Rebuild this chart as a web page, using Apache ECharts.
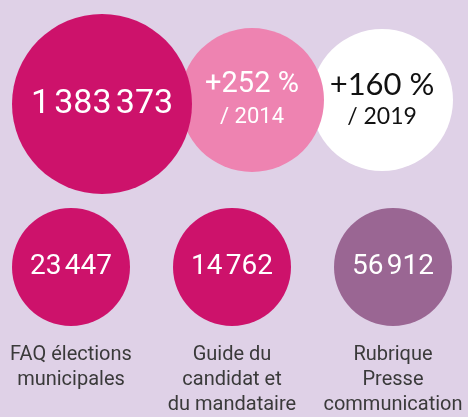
<!DOCTYPE html>
<html>
<head>
<meta charset="utf-8">
<script src="https://cdn.jsdelivr.net/npm/echarts@6/dist/echarts.min.js"></script>
<style>html,body{margin:0;padding:0;background:#dfd1e7}#c{width:468px;height:417px}</style>
</head>
<body>
<div id="c"></div>
<script>
// ---- data ----
const topCategories = ['Visites', 'Évolution / 2014', 'Évolution / 2019'];
const totalVisits = 1383373;
const growthVs2014 = 252;
const growthVs2019 = 160;
const compareYears = [2014, 2019];

const bottomCategories = ['FAQ élections\nmunicipales', 'Guide du\ncandidat et\ndu mandataire', 'Rubrique\nPresse\ncommunication'];
const bottomValues = [23447, 14762, 56912];

// ---- helpers ----
const fmt = n => String(n).replace(/\B(?=(\d{3})+(?!\d))/g, '\u202F');

const bg = '#dfd1e7';
const chart = echarts.init(document.getElementById('c'), null, {renderer: 'canvas'});

// top row items (drawn back to front: white, pink, big)
const topItems = [
  {
    value: [topCategories[2], 'r'],
    symbolSize: 142, symbolOffset: [0, -4],
    itemStyle: {color: '#ffffff', opacity: 1},
    label: {
      formatter: '{a|+' + growthVs2019 + ' %}\n{b|/ ' + compareYears[1] + '}',
      rich: {
        a: {fontFamily: 'Lato', fontSize: 31, color: '#111', lineHeight: 34},
        b: {fontFamily: 'Lato', fontSize: 23, color: '#111', lineHeight: 30}
      }
    }
  },
  {
    value: [topCategories[1], 'r'],
    symbolSize: 144, symbolOffset: [10, -4],
    itemStyle: {color: '#ee83b1', opacity: 1},
    label: {
      formatter: '{a|+' + growthVs2014 + ' %}\n{b|/ ' + compareYears[0] + '}',
      rich: {
        a: {fontFamily: 'Roboto', fontSize: 29, color: '#fff', lineHeight: 34},
        b: {fontFamily: 'Roboto', fontSize: 22, color: '#fff', lineHeight: 30}
      }
    }
  },
  {
    value: [topCategories[0], 'r'],
    symbolSize: 180,
    itemStyle: {color: '#cd126b', opacity: 1},
    label: {
      formatter: fmt(totalVisits),
      fontFamily: 'Roboto', fontSize: 34, color: '#fff'
    }
  }
];

const bottomColors = ['#cd126b', '#cd126b', '#9a6693'];

chart.setOption({
  backgroundColor: bg,
  animation: false,
  grid: [
    {left: 102, right: 86, top: 4, height: 200},
    {left: 71, right: 75, top: 209, height: 118}
  ],
  xAxis: [
    {gridIndex: 0, type: 'category', data: topCategories, boundaryGap: false, show: false},
    {gridIndex: 1, type: 'category', data: bottomCategories, boundaryGap: false,
      axisLine: {show: false}, axisTick: {show: false}, splitLine: {show: false},
      axisLabel: {
        interval: 0, margin: 17, color: '#3a3a3a', fontFamily: 'Roboto', fontSize: 20,
        lineHeight: 25, align: 'center'
      }
    }
  ],
  yAxis: [
    {gridIndex: 0, type: 'category', data: ['r'], show: false},
    {gridIndex: 1, type: 'category', data: ['r'], show: false}
  ],
  series: [
    {
      type: 'scatter', xAxisIndex: 0, yAxisIndex: 0,
      label: {show: true, position: 'inside', align: 'center', verticalAlign: 'middle'},
      emphasis: {disabled: true},
      data: topItems
    },
    {
      type: 'scatter', xAxisIndex: 1, yAxisIndex: 1,
      symbolSize: 118,
      emphasis: {disabled: true},
      label: {
        show: true, position: 'inside',
        formatter: p => fmt(bottomValues[p.dataIndex]),
        fontFamily: 'Roboto', fontSize: 28, color: '#fff'
      },
      data: bottomCategories.map((c, i) => ({
        value: [c, 'r'],
        itemStyle: {color: bottomColors[i], opacity: 1}
      }))
    }
  ]
});
</script>
</body>
</html>
